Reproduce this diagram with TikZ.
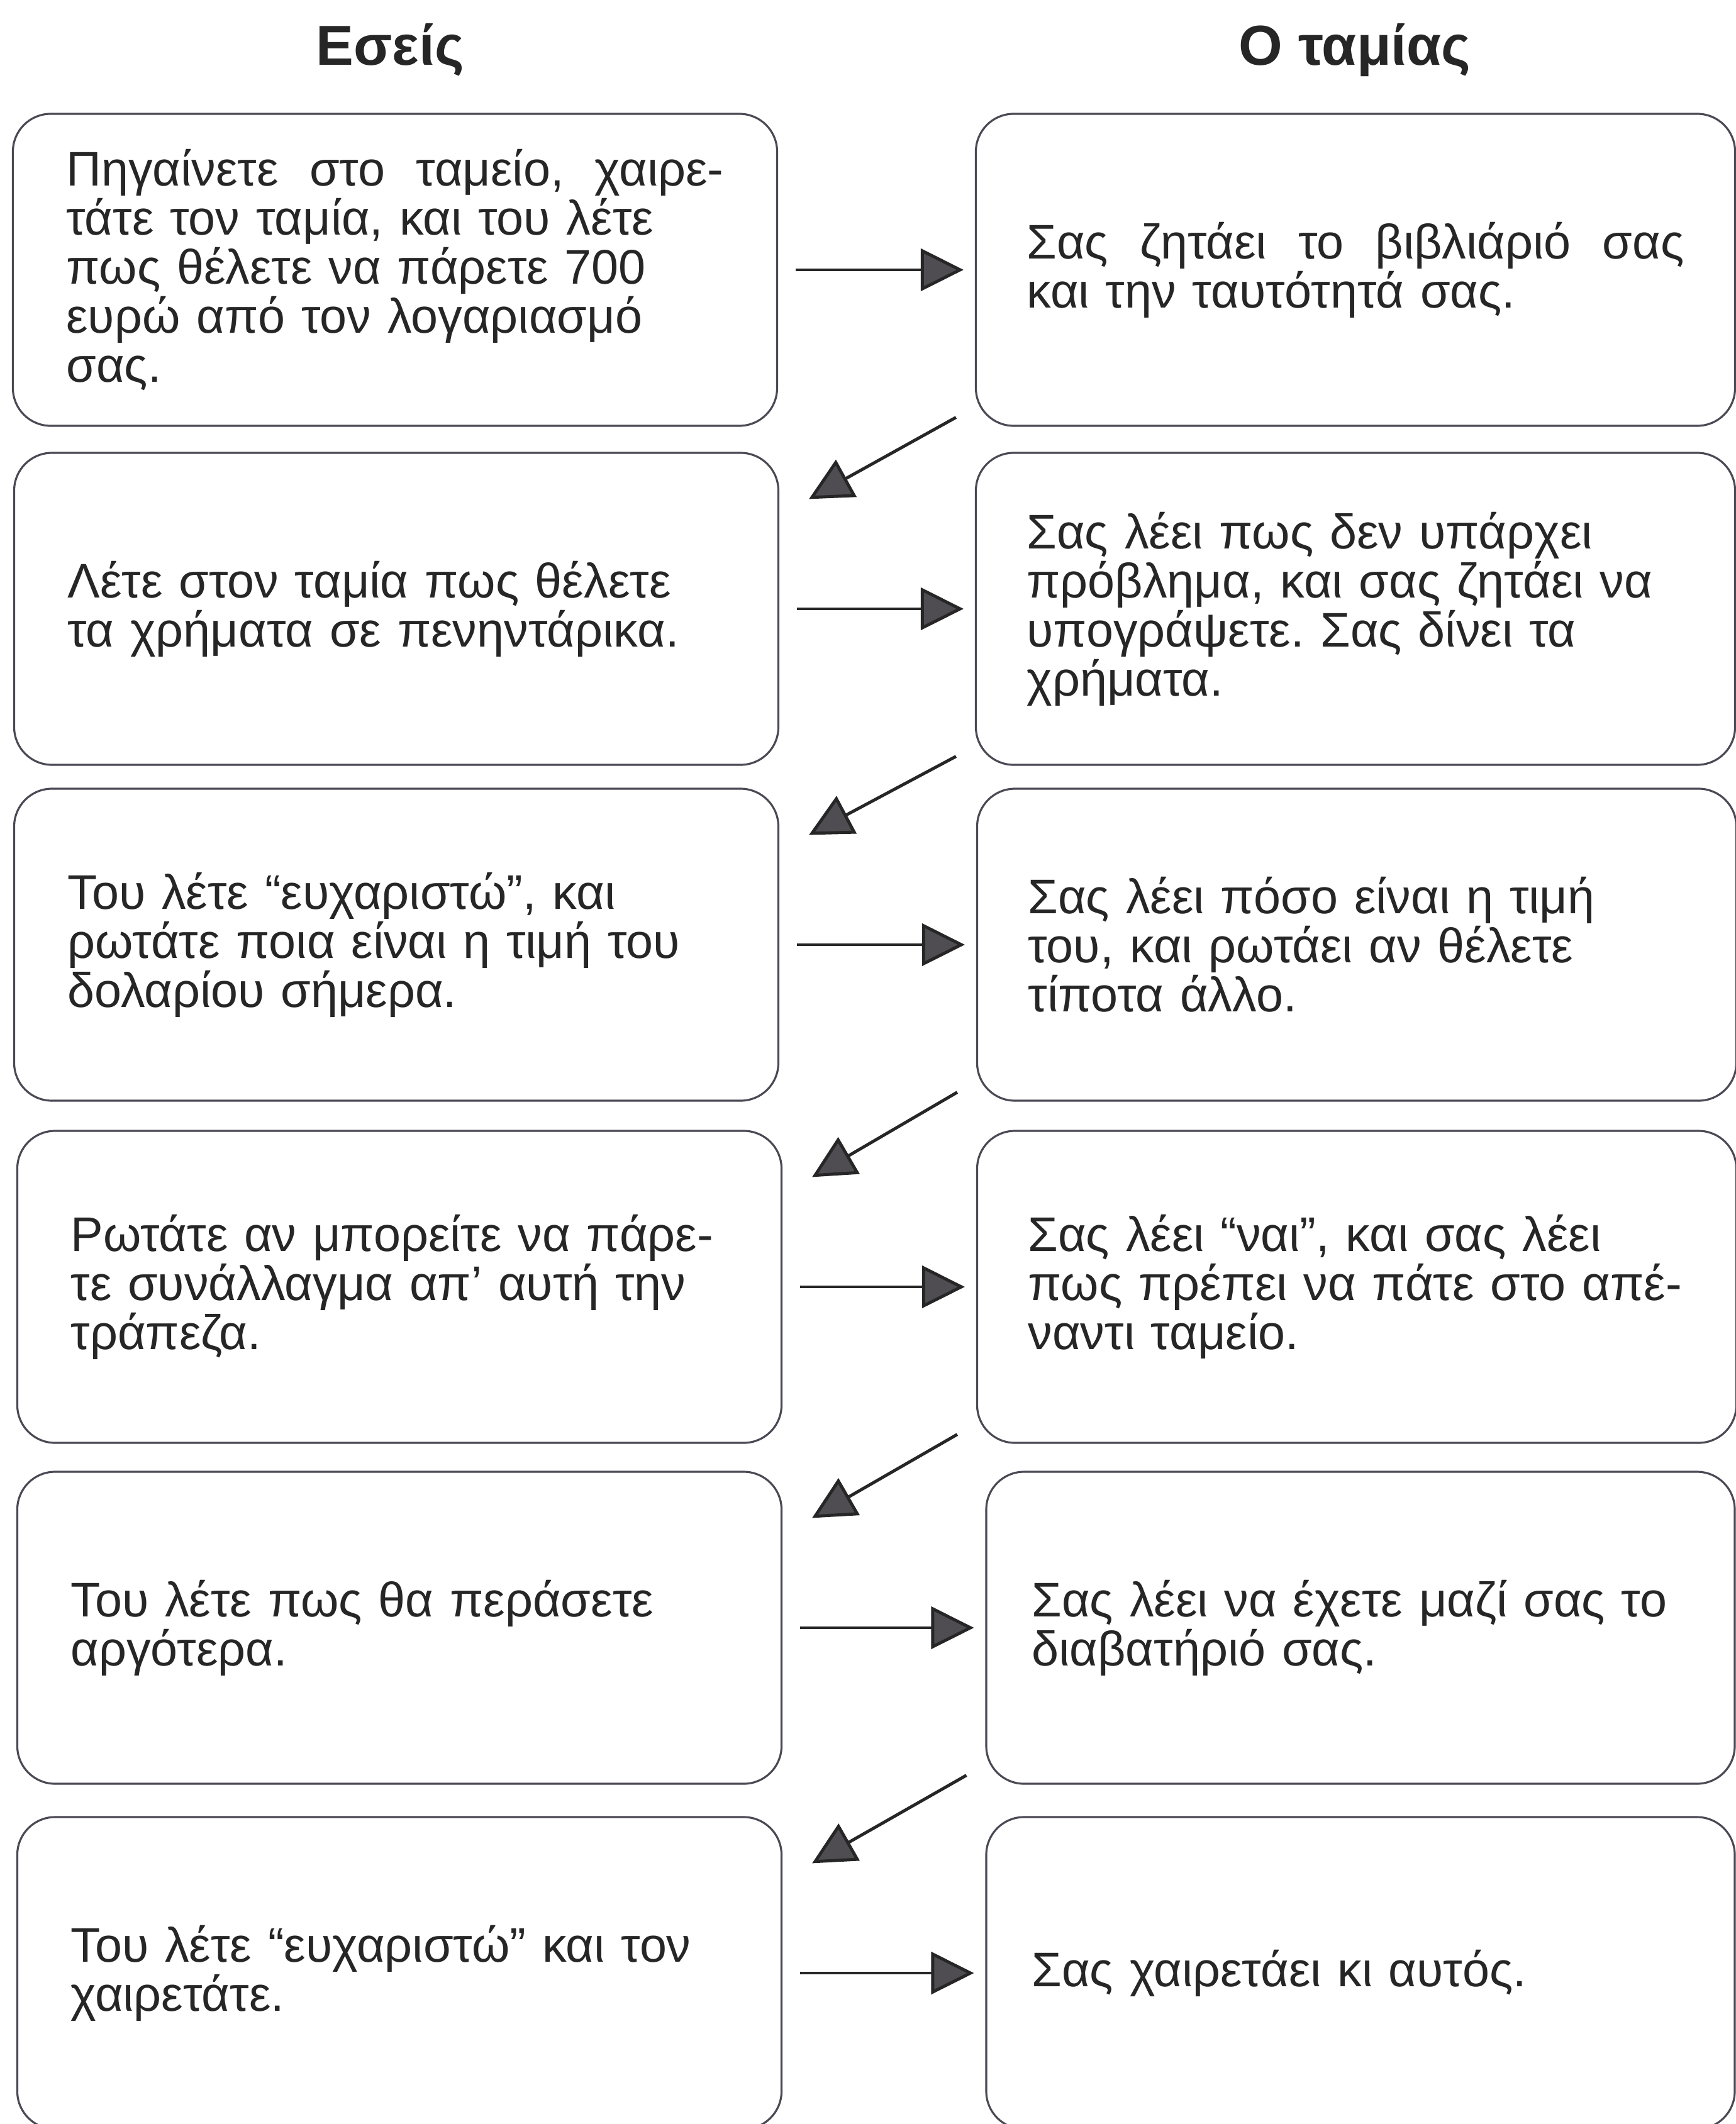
\documentclass[tikz,border=0pt]{standalone}
\usepackage{fontspec}
\setmainfont{Liberation Sans}
\usetikzlibrary{arrows.meta,calc}
\definecolor{ink}{HTML}{262626}
\definecolor{frame}{HTML}{4C4854}
\definecolor{headfill}{HTML}{4F4D52}
\frenchspacing
\begin{document}
\begin{tikzpicture}[font=\fontsize{22}{22.2}\selectfont,
   lb/.style={draw=frame,line width=0.9pt,rounded corners=0.6cm,fill=white,text=ink,
             text width=10.45cm,align=left,minimum width=12.15cm,minimum height=4.96cm,inner sep=0pt},
   rb/.style={lb,minimum width=12.07cm},
   hd/.style={font=\fontsize{25.5}{30}\selectfont\bfseries,text=ink,anchor=base},
   arr/.style={-{Triangle[length=0.68cm,width=0.67cm,fill=headfill]},line width=1.4pt,draw=ink}]
  \useasboundingbox (0,0) rectangle (27.59,-33.77);
  \node[hd] (h1) at (6.20,-1.04) {Εσείς};
  \node[hd] (h2) at (21.54,-1.04) {Ο ταμίας};
  \node[lb] (l1) at (6.28,-4.29) {Πηγαίνετε\hfill στο\hfill ταμείο,\hfill χαιρε-\\τάτε τον ταμία, και του λέτε\\πως θέλετε να πάρετε 700\\ευρώ από τον λογαριασμό\\σας.};
  \node[lb] (l2) at (6.30,-9.68) {Λέτε στον ταμία πως θέλετε\\τα χρήματα σε πενηντάρικα.};
  \node[lb] (l3) at (6.30,-15.02) {Του λέτε “ευχαριστώ”, και\\ρωτάτε ποια είναι η τιμή του\\δολαρίου σήμερα.};
  \node[lb] (l4) at (6.35,-20.46) {Ρωτάτε αν μπορείτε να πάρε-\\τε συνάλλαγμα απ’ αυτή την\\τράπεζα.};
  \node[lb] (l5) at (6.35,-25.88) {Του λέτε πως θα περάσετε\\αργότερα.};
  \node[lb] (l6) at (6.35,-31.37) {Του λέτε “ευχαριστώ” και τον\\χαιρετάτε.};
  \node[rb] (r1) at (21.55,-4.29) {Σας\hfill ζητάει\hfill το\hfill βιβλιάριό\hfill σας\\και την ταυτότητά σας.};
  \node[rb] (r2) at (21.55,-9.68) {Σας λέει πως δεν υπάρχει\\πρόβλημα, και σας ζητάει να\\υπογράψετε. Σας δίνει τα\\χρήματα.};
  \node[rb] (r3) at (21.57,-15.02) {Σας λέει πόσο είναι η τιμή\\του, και ρωτάει αν θέλετε\\τίποτα άλλο.};
  \node[rb] (r4) at (21.57,-20.46) {Σας λέει “ναι”, και σας λέει\\πως πρέπει να πάτε στο απέ-\\ναντι ταμείο.};
  \node[rb,minimum width=11.9cm] (r5) at (21.63,-25.88) {Σας λέει να έχετε μαζί σας το\\διαβατήριό σας.};
  \node[rb,minimum width=11.9cm] (r6) at (21.63,-31.37) {Σας χαιρετάει κι αυτός.};
  \foreach \i in {1,...,6}
    \draw[arr,shorten <=0.28cm,shorten >=0.18cm] (l\i) -- (r\i);
  \foreach \i/\j in {1/2,2/3,3/4,4/5,5/6}{
    \coordinate (d\i) at ($(r\i.south west)+(-0.30,0.15)$);
    \coordinate (e\j) at ($(l\j.north east)+(0.47,-0.75)$);
    \draw[arr] (d\i) -- (e\j);
  }
\end{tikzpicture}
\end{document}
